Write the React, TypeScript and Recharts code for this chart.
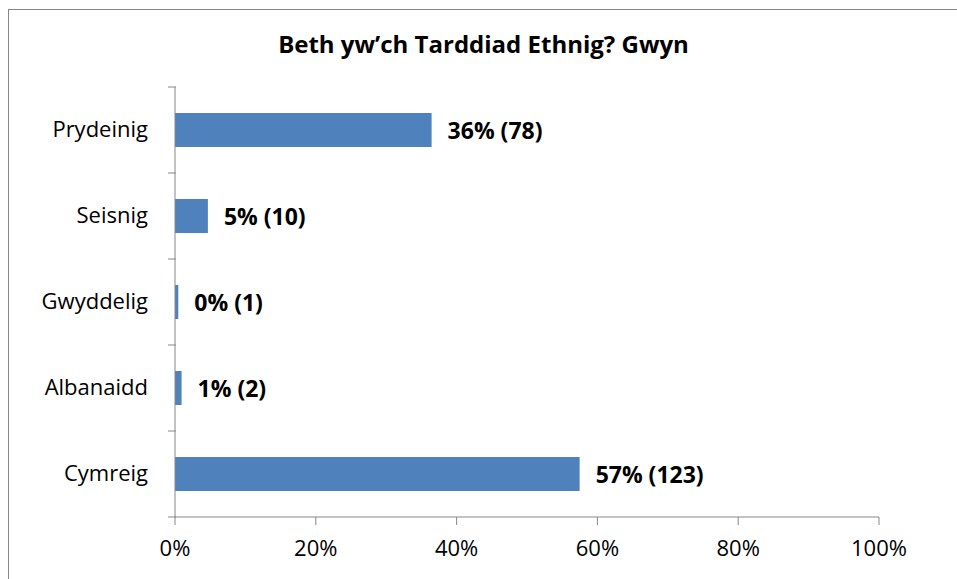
import React from 'react'
import { BarChart, Bar, XAxis, YAxis, LabelList } from 'recharts'

const categories = ['Prydeinig', 'Seisnig', 'Gwyddelig', 'Albanaidd', 'Cymreig']
const counts = [78, 10, 1, 2, 123]
const xTicks = [0, 0.2, 0.4, 0.6, 0.8, 1]
const title = 'Beth yw’ch Tarddiad Ethnig? Gwyn'

const total = counts.reduce((a, b) => a + b, 0)
const data = categories.map((name, i) => ({
  name,
  count: counts[i],
  share: counts[i] / total,
}))

const FONT = '"Open Sans", Lato, sans-serif'
const AXIS = '#878787'

// Excel puts category ticks between bands, not at their centres
const CategoryTick = (props: any) => {
  const { x, y, payload, index } = props
  const half = 43
  return (
    <g>
      <line x1={x + 1} x2={x + 9} y1={y - half} y2={y - half} stroke={AXIS} />
      {index === categories.length - 1 && (
        <line x1={x + 1} x2={x + 9} y1={y + half} y2={y + half} stroke={AXIS} />
      )}
      <text x={x - 19} y={y} dy={7} textAnchor="end" fontSize={22} fill="#000" fontFamily={FONT}>
        {payload.value}
      </text>
    </g>
  )
}

const PercentTick = (props: any) => {
  const { x, y, payload } = props
  return (
    <text x={x} y={y} dy={29} textAnchor="middle" fontSize={22} fill="#000" fontFamily={FONT}>
      {`${Math.round(payload.value * 100)}%`}
    </text>
  )
}

const ValueLabel = (props: any) => {
  const { x, y, width, height, index } = props
  const d = data[index]
  return (
    <text
      x={x + width + 16}
      y={y + height / 2}
      dy={8.5}
      fontSize={23}
      fontWeight="bold"
      fill="#000"
      fontFamily={FONT}
    >
      {`${Math.round(d.share * 100)}% (${d.count})`}
    </text>
  )
}

export default function App() {
  return (
    <div style={{ position: 'absolute', left: 0, top: 0, width: 957, height: 579, background: '#fff', overflow: 'hidden' }}>
      <div
        style={{
          position: 'absolute',
          left: 8,
          top: 9,
          width: 960,
          height: 600,
          border: '1px solid #868686',
          boxSizing: 'border-box',
        }}
      />
      <BarChart
        width={957}
        height={579}
        data={data}
        layout="vertical"
        margin={{ top: 87, right: 78, left: 0, bottom: 0 }}
        style={{ position: 'absolute', left: 0, top: 0 }}
      >
        <XAxis
          type="number"
          domain={[0, 1]}
          ticks={xTicks}
          interval={0}
          height={62}
          axisLine={{ stroke: AXIS }}
          tickLine={{ stroke: AXIS }}
          tickSize={8}
          tick={<PercentTick />}
        />
        <YAxis
          type="category"
          dataKey="name"
          width={175}
          axisLine={{ stroke: AXIS }}
          tickLine={false}
          tick={<CategoryTick />}
        />
        <Bar dataKey="share" fill="#4F81BD" barSize={34} isAnimationActive={false}>
          <LabelList dataKey="share" content={<ValueLabel />} />
        </Bar>
      </BarChart>
      <svg width={957} height={70} style={{ position: 'absolute', left: 0, top: 0 }}>
        <text x={483.5} y={53} textAnchor="middle" fontSize={24} fontWeight="bold" fill="#000" fontFamily={FONT}>
          {title}
        </text>
      </svg>
    </div>
  )
}
